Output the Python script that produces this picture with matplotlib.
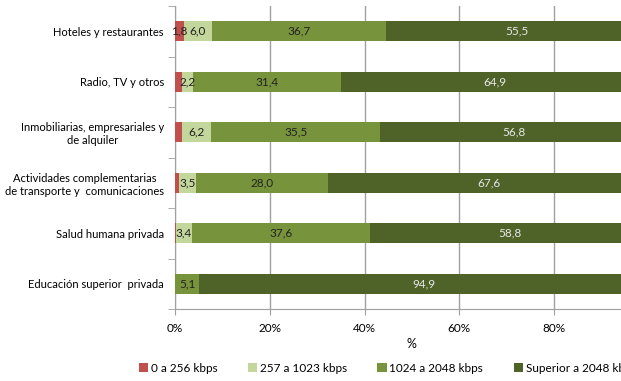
import matplotlib
matplotlib.use("Agg")
import matplotlib.pyplot as plt
import numpy as np

categories = ["Hoteles y restaurantes", "Radio, TV y otros",
              "Inmobiliarias, empresariales y\nde alquiler",
              "Actividades complementarias\nde transporte y  comunicaciones",
              "Salud humana privada", "Educación superior  privada"]
series_names = ["0 a 256 kbps", "257 a 1023 kbps", "1024 a 2048 kbps", "Superior a 2048 kbps"]
s0 = [1.8, 1.5, 1.5, 0.9, 0.2, 0.0]
s1 = [6.0, 2.2, 6.2, 3.5, 3.4, 0.0]
s2 = [36.7, 31.4, 35.5, 28.0, 37.6, 5.1]
s3 = [55.5, 64.9, 56.8, 67.6, 58.8, 94.9]
xticks = [0, 20, 40, 60, 80]

colors = ["#C0504D", "#C3D69B", "#77933C", "#4F6228"]
txtcol = ["#222222", "#222222", "#222222", "#E8E8E8"]

plt.rcParams['font.family'] = ['Lato', 'DejaVu Sans']
fig = plt.figure(figsize=(6.21, 3.81), dpi=100)
ax = fig.add_axes([175/621, 1-309/381, (648.75-175)/621, (309-6)/381])

y = np.arange(len(categories))
left = np.zeros(len(categories))
for vals, name, c, tc in zip([s0, s1, s2, s3], series_names, colors, txtcol):
    v = np.array(vals)
    ax.barh(y, v, left=left, height=0.4, color=c, label=name, zorder=3)
    for yi, (l, w) in enumerate(zip(left, v)):
        if w >= 1.8:
            ax.text(l + w/2, yi, f"{w:.1f}".replace('.', ','), ha='center', va='center',
                    fontsize=8.5, color=tc, zorder=4)
    left += v

ax.set_ylim(len(categories)-0.5, -0.5)
ax.set_xlim(0, 100)
ax.set_yticks(y)
ax.set_yticklabels(categories, fontsize=8, ha='right', multialignment='center')
ax.tick_params(axis='y', length=0, pad=8)
ax.set_yticks(np.arange(-0.5, len(categories)), minor=True)
ax.tick_params(axis='y', which='minor', length=5, color='#A0A0A0', direction='out')
ax.set_xticks(xticks)
ax.set_xticklabels([f"{t}%" for t in xticks], fontsize=8.5)
ax.tick_params(axis='x', length=4, color='#A0A0A0', pad=6)
ax.set_xlabel("%", fontsize=9, labelpad=3)
ax.grid(axis='x', color='#A0A0A0', linewidth=1, zorder=0)
for s in ['top', 'right']:
    ax.spines[s].set_visible(False)
for s in ['left', 'bottom']:
    ax.spines[s].set_color('#A0A0A0')

fig.legend(loc='center left', bbox_to_anchor=(134/621, 1-368/381), ncol=4, frameon=False,
           fontsize=8.5, handlelength=0.8, handleheight=0.8, handletextpad=0.2,
           columnspacing=2.6, borderaxespad=0)

fig.savefig("out.png", dpi=100)
